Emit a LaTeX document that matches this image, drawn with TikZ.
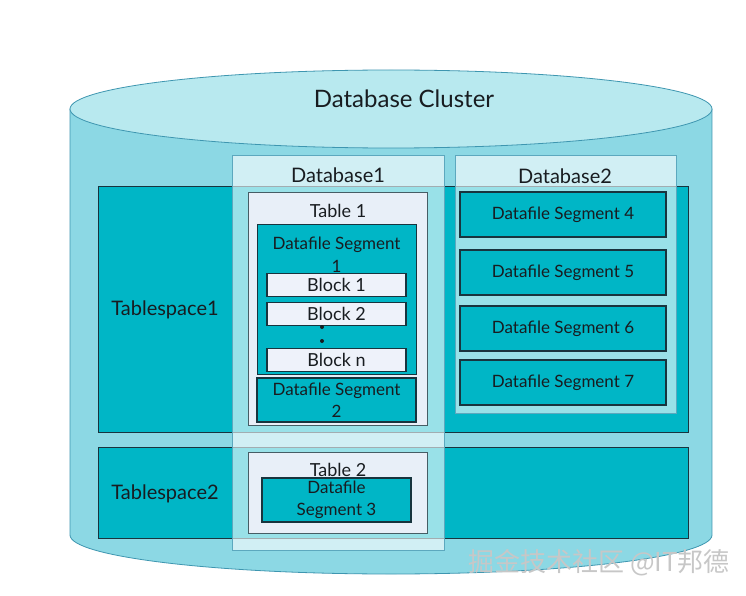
\documentclass[tikz,border=0pt]{standalone}
\usepackage{fontspec}
\setmainfont{Lato}
\newfontfamily\cjk{Noto Sans CJK SC}
\definecolor{cylbody}{RGB}{140,216,228}
\definecolor{cyltop}{RGB}{184,233,239}
\definecolor{cylline}{RGB}{62,150,176}
\definecolor{tealfill}{RGB}{0,182,198}
\definecolor{darkline}{RGB}{24,52,62}
\definecolor{colline}{RGB}{92,168,190}
\definecolor{tblfill}{RGB}{232,239,248}
\definecolor{blkfill}{RGB}{238,242,250}
\definecolor{ink}{RGB}{24,28,32}
\begin{document}
\begin{tikzpicture}[
x=1pt,y=-1pt,
every node/.style={text=ink,inner sep=0pt},
big/.style={font=\fontsize{24}{28}\selectfont},
mid/.style={font=\fontsize{20}{24}\selectfont},
small/.style={font=\fontsize{17}{22}\selectfont,align=center},
tspace/.style={
	rectangle,anchor=north west,
	fill=tealfill,draw=darkline,line width=0.9pt},
dbcol/.style={
	rectangle,anchor=north west,
	fill=white,fill opacity=0.6,draw=colline,draw opacity=1,line width=0.8pt},
tbl/.style={
	rectangle,anchor=north west,
	fill=tblfill,draw=darkline!80,line width=1pt},
seg/.style={
	rectangle,minimum width=159pt,
	fill=tealfill,draw=darkline,line width=1.2pt,
	font=\fontsize{17}{22}\selectfont,align=center},
blk/.style={
	rectangle,minimum width=139pt,minimum height=23pt,
	fill=blkfill,draw=darkline,line width=1.1pt,
	font=\fontsize{18}{20}\selectfont}
]
\useasboundingbox[fill=white] (0,0) rectangle (746,596);
\fill[cylbody] (70,109) rectangle (712,535);
\fill[cylbody] (391,535) ellipse[x radius=321pt,y radius=39pt];
\draw[cylline,line width=0.8pt] (70,109) -- (70,535)
	arc[start angle=180,end angle=360,x radius=321pt,y radius=39pt] -- (712,109);
\draw[cylline,fill=cyltop,line width=0.8pt] (391,109) ellipse[x radius=321pt,y radius=39pt];
\node[big] (cluster) at (404,99) {Database Cluster};

\node[tspace,minimum width=590pt,minimum height=246pt] (ts1) at (98,186) {};
\node[tspace,minimum width=590pt,minimum height=91pt] (ts2) at (98,447) {};
\node[mid] (ts1label) at (165,310) {Tablespace1};
\node[mid] (ts2label) at (165,494) {Tablespace2};

\node[dbcol,minimum width=212pt,minimum height=395pt] (db1) at (232,155) {};
\node[dbcol,minimum width=221pt,minimum height=258pt] (db2) at (455,155) {};
\node[mid] (db1label) at (338,175) {Database1};
\node[mid] (db2label) at (565,176) {Database2};

\node[tbl,minimum width=179pt,minimum height=233pt] (tbl1) at (248,192) {};
\node[mid,font=\fontsize{18}{21}\selectfont] (tbl1label) at (338,211) {Table 1};
\node[seg,anchor=north west,minimum height=150pt] (seg1) at (257,224) {};
\node[small,font=\fontsize{17}{23}\selectfont] (seg1label) at (336.5,255) {Datafile Segment\\1};
\node[blk] (blk1) at (336.5,285) {Block 1};
\node[blk] (blk2) at (336.5,314) {Block 2};
\fill[ink] (322,327) circle[radius=2pt] (322,341) circle[radius=2pt];
\node[blk] (blkn) at (336.5,360) {Block n};
\node[seg,minimum height=44pt] (seg2) at (336.5,400) {Datafile Segment\\2};

\node[tbl,minimum width=179pt,minimum height=81pt] (tbl2) at (248,452) {};
\node[mid,font=\fontsize{18}{21}\selectfont] (tbl2label) at (338,470) {Table 2};
\node[seg,minimum width=149pt,minimum height=44pt] (seg3) at (336.5,500) {Datafile\\Segment 3};

\node[seg,minimum width=206pt,minimum height=45pt] (seg4) at (563,214.5) {Datafile Segment 4};
\node[seg,minimum width=206pt,minimum height=45pt] (seg5) at (563,272.5) {Datafile Segment 5};
\node[seg,minimum width=206pt,minimum height=45pt] (seg6) at (563,328.5) {Datafile Segment 6};
\node[seg,minimum width=206pt,minimum height=45pt] (seg7) at (563,382.5) {Datafile Segment 7};

\node[text=black!22,font=\cjk\fontsize{26}{30}\selectfont] (mark) at (599,563) {掘金技术社区 @IT邦德};
\end{tikzpicture}
\end{document}
